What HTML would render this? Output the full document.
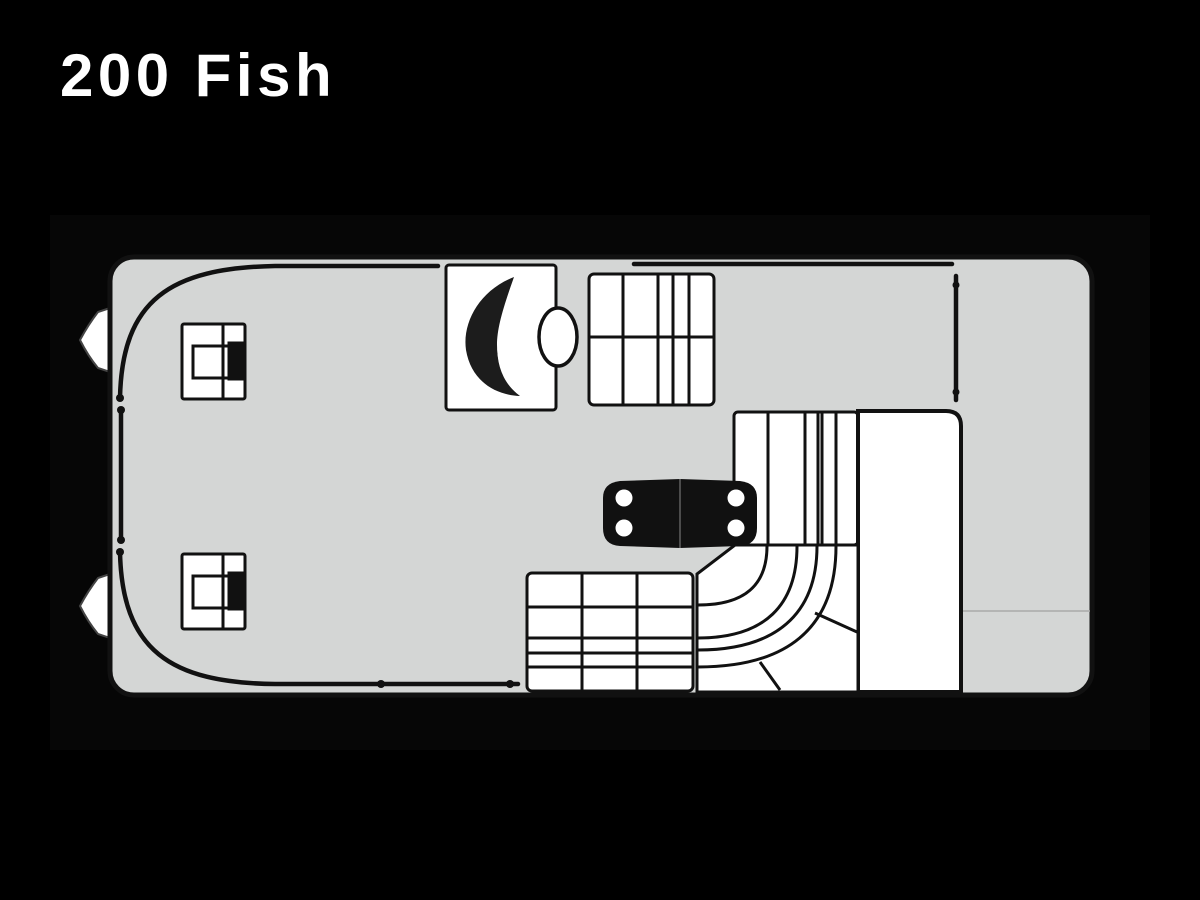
<!DOCTYPE html>
<html><head><meta charset="utf-8"><style>
html,body{margin:0;padding:0;background:#000;width:1200px;height:900px;overflow:hidden}
h1{position:absolute;left:60px;top:41px;margin:0;font:bold 60px "Liberation Sans",sans-serif;color:#fff;letter-spacing:4.5px}
svg{position:absolute;left:0;top:0}
</style></head><body>
<svg width="1200" height="900" viewBox="0 0 1200 900">
<rect x="50" y="215" width="1100" height="535" fill="#060606"/>
<path d="M110,308 L98,312 Q88,325 80,340 Q88,356 98,368 L110,372 Z" fill="#fff" stroke="#444" stroke-width="2"/>
<path d="M110,574 L98,578 Q88,591 80,606 Q88,622 98,634 L110,638 Z" fill="#fff" stroke="#444" stroke-width="2"/>
<rect x="110" y="257" width="982" height="438" rx="24" fill="#d4d6d5" stroke="#111" stroke-width="5"/>
<line x1="962" y1="611" x2="1090" y2="611" stroke="#aaa" stroke-width="1.5"/>
<g fill="none" stroke="#111" stroke-width="4.5" stroke-linecap="round">
<path d="M438,266 L275,266 C170,268 122,300 120,398"/>
<line x1="121" y1="410" x2="121" y2="540"/>
<path d="M120,552 C122,650 170,683 275,684 L518,684"/>
<line x1="634" y1="264" x2="952" y2="264"/>
<line x1="956" y1="276" x2="956" y2="400"/>
</g>
<g fill="#111">
<circle cx="120" cy="398" r="4"/><circle cx="121" cy="410" r="4"/><circle cx="121" cy="540" r="4"/><circle cx="120" cy="552" r="4"/>
<circle cx="381" cy="684" r="4"/><circle cx="510" cy="684" r="4"/>
<circle cx="956" cy="285" r="3.5"/><circle cx="956" cy="392" r="3.5"/>
</g>
<g stroke="#111" stroke-width="3">
<rect x="182" y="324" width="63" height="75" rx="2" fill="#fff"/>
<line x1="223" y1="324" x2="223" y2="399"/>
<path d="M228,346 H193 V378 H228" fill="none"/>
<rect x="229" y="343" width="13" height="36" fill="#111"/>
<rect x="182" y="554" width="63" height="75" rx="2" fill="#fff"/>
<line x1="223" y1="554" x2="223" y2="629"/>
<path d="M228,576 H193 V608 H228" fill="none"/>
<rect x="229" y="573" width="13" height="36" fill="#111"/>
</g>
<rect x="446" y="265" width="110" height="145" rx="3" fill="#fff" stroke="#111" stroke-width="3"/>
<path d="M514,277 C480,290 462,322 466,350 C471,380 494,395 520,396 C505,385 497,365 497,345 C497,328 503,308 514,277 Z" fill="#1c1c1c"/>
<path d="M508,318 C493,338 495,375 518,393" fill="none" stroke="#fff" stroke-width="2"/>
<ellipse cx="558" cy="337" rx="19" ry="29" fill="#fff" stroke="#111" stroke-width="3.5"/>
<rect x="589" y="274" width="125" height="131" rx="5" fill="#fff" stroke="#111" stroke-width="3"/>
<g stroke="#111" stroke-width="3">
<line x1="589" y1="337" x2="714" y2="337"/>
<line x1="623" y1="275" x2="623" y2="404"/>
<line x1="658" y1="275" x2="658" y2="404"/>
<line x1="673" y1="275" x2="673" y2="404"/>
<line x1="689" y1="275" x2="689" y2="404"/>
</g>
<g fill="#fff" stroke="#111" stroke-width="3">
<rect x="734" y="412" width="124" height="133" rx="4"/>
<path d="M858,411 L946,411 Q961,411 961,426 L961,692 L858,692 Z" stroke-width="4"/>
<path d="M735,545 L858,545 L858,692 L697,692 L697,574 Z"/>
<rect x="527" y="573" width="166" height="118" rx="5"/>
</g>
<g stroke="#111" stroke-width="3" fill="none">
<line x1="768" y1="413" x2="768" y2="544"/>
<line x1="805" y1="413" x2="805" y2="544"/>
<line x1="818" y1="413" x2="818" y2="544"/>
<line x1="822" y1="413" x2="822" y2="544"/>
<line x1="836" y1="413" x2="836" y2="544"/>
<path d="M767,546 C767,585 745,605 698,605"/>
<path d="M797,546 C797,605 765,638 698,638"/>
<path d="M817,546 C817,615 775,650 698,650"/>
<path d="M836,546 C836,630 785,667 698,667"/>
<line x1="815" y1="613" x2="857" y2="632"/>
<line x1="760" y1="662" x2="780" y2="690"/>
<line x1="528" y1="607" x2="692" y2="607"/>
<line x1="528" y1="638" x2="692" y2="638"/>
<line x1="528" y1="653" x2="692" y2="653"/>
<line x1="528" y1="667" x2="692" y2="667"/>
<line x1="582" y1="574" x2="582" y2="690"/>
<line x1="637" y1="574" x2="637" y2="690"/>
</g>
<path d="M620,481 L680,479 L740,481 Q757,483 757,498 L757,528 Q757,545 740,546 L680,548 L620,546 Q603,545 603,528 L603,498 Q603,483 620,481 Z" fill="#111"/>
<line x1="680" y1="479" x2="680" y2="548" stroke="#888" stroke-width="1"/>
<g fill="#fff"><circle cx="624" cy="498" r="8.5"/><circle cx="624" cy="528" r="8.5"/><circle cx="736" cy="498" r="8.5"/><circle cx="736" cy="528" r="8.5"/></g>
</svg>
<h1>200 Fish</h1>
</body></html>
